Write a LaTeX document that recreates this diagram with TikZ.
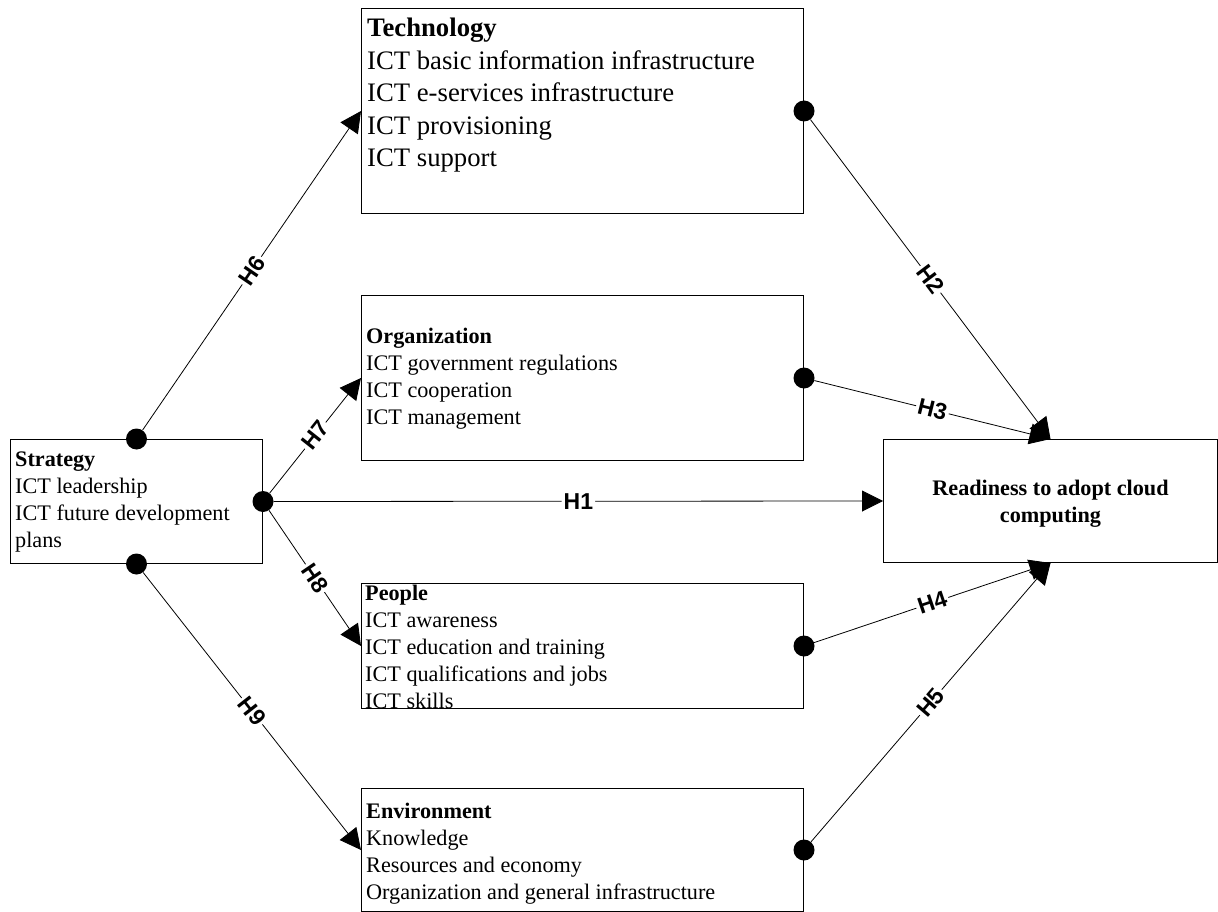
\documentclass[tikz,border=0pt]{standalone}
\usepackage{fontspec}
\setmainfont{Liberation Serif}
\setsansfont{Liberation Sans}
\usetikzlibrary{positioning,arrows.meta}

\begin{document}
\begin{tikzpicture}[x=1pt, y=-1pt,
    box/.style={draw, line width=1pt, minimum width=442pt, anchor=north west, inner sep=0pt},
    txt/.style={anchor=north west, align=left, inner sep=0pt, font=\fontsize{22.2}{27}\selectfont},
    dot/.style={circle, fill=black, minimum size=21pt, inner sep=0pt},
    arr/.style={line width=0.8pt, -{Triangle[length=21pt,width=21pt]}},
    hyp/.style={fill=white, inner sep=2pt, sloped, font=\sffamily\bfseries\fontsize{23}{23}\selectfont}]
    \useasboundingbox (0,0) rectangle (1218,912);

    % Boxes
    \node[box, minimum width=252pt, minimum height=124pt] (strat) at (10,439) {};
    \node[box, minimum height=205pt] (tech) at (361,8) {};
    \node[box, minimum height=165pt] (org) at (361,295) {};
    \node[box, minimum height=125pt] (people) at (361,583) {};
    \node[box, minimum height=123pt] (env) at (361,788) {};
    \node[box, minimum width=334pt, minimum height=123pt] (ready) at (883,439) {};

    % Box texts
    \node[txt] (strattxt) at (15,452) {\textbf{Strategy}\\ICT leadership\\ICT future development\\plans};
    \node[txt, font=\fontsize{26.7}{32.5}\selectfont] (techtxt) at (367,18)
        {\textbf{Technology}\\ICT basic information infrastructure\\ICT e-services infrastructure\\ICT provisioning\\ICT support};
    \node[txt] (orgtxt) at (366,328) {\textbf{Organization}\\ICT government regulations\\ICT cooperation\\ICT management};
    \node[txt] (peopletxt) at (365,585) {\textbf{People}\\ICT awareness\\ICT education and training\\ICT qualifications and jobs\\ICT skills};
    \node[txt] (envtxt) at (366,803) {\textbf{Environment}\\Knowledge\\Resources and economy\\Organization and general infrastructure};
    \node[align=center, yshift=-3pt, font=\bfseries\fontsize{22.2}{27}\selectfont] (readytxt) at (ready.center)
        {Readiness to adopt cloud\\computing};

    % Dots
    \node[dot] (stop) at (strat.north) {};
    \node[dot] (sbot) at (strat.south) {};
    \node[dot] (sright) at (strat.east) {};
    \node[dot] (techdot) at (tech.east) {};
    \node[dot] (orgdot) at (org.east) {};
    \node[dot] (peopledot) at (people.east) {};
    \node[dot] (envdot) at (env.east) {};

    % Hypotheses
    \draw[arr] (stop) -- node[hyp] {H6} (tech.west);
    \draw[arr] (sright) -- node[hyp] {H7} (org.west);
    \draw[arr] (sright) -- node[hyp] {H1} (ready.west);
    \draw[arr] (sright) -- node[hyp] {H8} (people.west);
    \draw[arr] (sbot) -- node[hyp] {H9} (env.west);
    \draw[arr] (techdot) -- node[hyp] {H2} (ready.north);
    \draw[arr] (orgdot) -- node[hyp] {H3} (ready.north);
    \draw[arr] (peopledot) -- node[hyp] {H4} (ready.south);
    \draw[arr] (envdot) -- node[hyp] {H5} (ready.south);
\end{tikzpicture}
\end{document}
